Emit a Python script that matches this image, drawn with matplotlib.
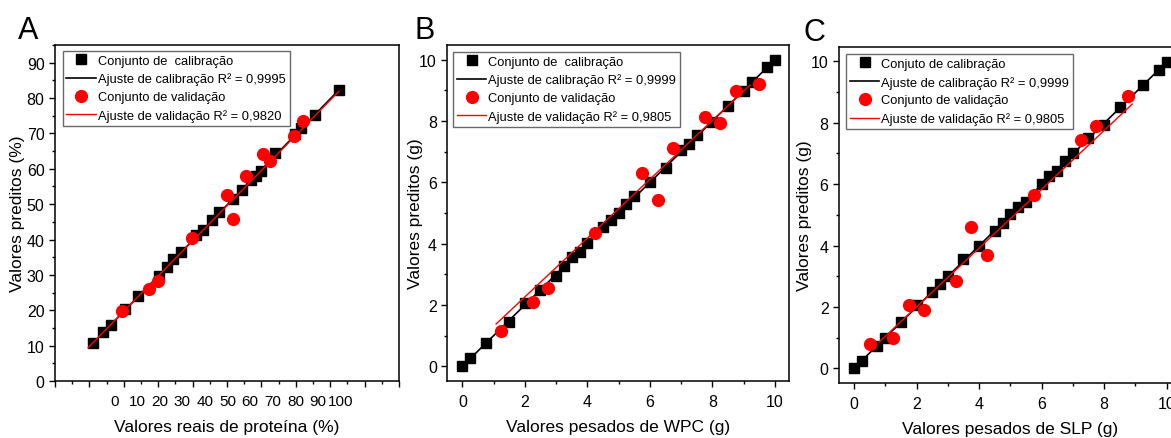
import numpy as np
import matplotlib
matplotlib.use("Agg")
import matplotlib.pyplot as plt
from matplotlib.ticker import MultipleLocator

plt.rcParams['font.family'] = ['Liberation Sans', 'DejaVu Sans']

# ---- panel A: protein (%) ----
cal_A_x = [11.1, 14.0, 16.3, 20.4, 24.0, 30.3, 32.5, 34.2, 36.6, 41.0, 43.1, 45.7,
           47.6, 51.7, 54.4, 57.0, 58.5, 60.0, 63.8, 69.7, 71.6, 75.5, 82.5]
cal_A_y = [10.8, 13.9, 15.9, 20.4, 24.0, 29.7, 32.2, 34.4, 36.5, 41.2, 42.8, 45.5,
           47.7, 51.5, 54.1, 56.7, 58.1, 59.3, 64.5, 69.7, 71.6, 75.1, 82.3]
val_A_x = [19.6, 27.4, 29.8, 39.8, 50.0, 51.7, 55.6, 60.4, 62.6, 69.4, 72.1]
val_A_y = [19.8, 25.9, 28.2, 40.3, 52.7, 45.7, 58.1, 64.3, 62.1, 69.2, 73.4]
fitcal_A = ([11.1, 82.5], [10.8, 82.3])
fitval_A = ([9.6, 82.5], [9.4, 81.9])
# x tick labels of panel A sit squeezed, not under their ticks
xlab_A = ['0', '10', '20', '30', '40', '50', '60', '70', '80', '90', '100']
xlab_A_pos = [17.2, 23.8, 30.4, 37.0, 43.6, 50.1, 56.7, 63.3, 69.9, 76.5, 83.0]

# ---- panel B: WPC (g) ----
cal_B_x = [0, 0.25, 0.75, 1.5, 2, 2.5, 3, 3.25, 3.5, 3.75, 4, 4.5, 4.75, 5, 5.25,
           5.5, 6, 6.5, 7, 7.25, 7.5, 8, 8.5, 9, 9.25, 9.75, 10]
cal_B_y = [0.02, 0.26, 0.76, 1.46, 2.05, 2.48, 2.95, 3.26, 3.55, 3.72, 4.01, 4.53,
           4.78, 5.0, 5.29, 5.54, 6.0, 6.47, 7.04, 7.26, 7.55, 7.98, 8.5, 8.99,
           9.26, 9.77, 10.0]
val_B_x = [1.25, 2.25, 2.75, 4.25, 5.75, 6.25, 6.75, 7.75, 8.25, 8.75, 9.5]
val_B_y = [1.14, 2.11, 2.55, 4.34, 6.30, 5.42, 7.12, 8.12, 7.92, 8.97, 9.21]
fitcal_B = ([0, 10], [0, 10])
fitval_B = ([1.08, 9.2], [1.38, 9.17])

# ---- panel C: SLP (g) ----
cal_C_x = [0, 0.25, 0.75, 1, 1.5, 2, 2.5, 2.75, 3, 3.5, 4, 4.5, 4.75, 5, 5.25,
           5.5, 6, 6.25, 6.5, 6.75, 7, 7.5, 8, 8.5, 9.25, 9.75, 10]
cal_C_y = [0, 0.24, 0.73, 1.0, 1.51, 2.05, 2.47, 2.74, 3.01, 3.55, 3.99, 4.46,
           4.73, 5.02, 5.26, 5.43, 6.0, 6.27, 6.43, 6.74, 7.03, 7.52, 7.92, 8.53,
           9.24, 9.73, 9.97]
val_C_x = [0.5, 1.25, 1.75, 2.25, 3.25, 3.75, 4.25, 5.75, 7.25, 7.75, 8.75]
val_C_y = [0.78, 0.97, 2.07, 1.89, 2.85, 4.59, 3.68, 5.65, 7.45, 7.9, 8.86]
fitcal_C = ([0, 10], [0, 9.98])
fitval_C = ([0.81, 8.9], [0.86, 8.61])

panels = [
    dict(letter='A', cal=(cal_A_x, cal_A_y), val=(val_A_x, val_A_y),
         fcal=fitcal_A, fval=fitval_A,
         labels=['Conjunto de  calibração', 'Ajuste de calibração R² = 0,9995',
                 'Conjunto de validação', 'Ajuste de validação R² = 0,9820'],
         xlabel='Valores reais de proteína (%)', ylabel='Valores preditos (%)',
         rect=[0.0470, 0.1298, 0.2938, 0.7654], xlim=(0, 100), ylim=(0, 95),
         xmaj=10, xmin=5, ymaj=10, ymin=5, leg=(0.022, 0.983), ylc=-0.087,
         lpos=(-0.108, 1.021)),
    dict(letter='B', cal=(cal_B_x, cal_B_y), val=(val_B_x, val_B_y),
         fcal=fitcal_B, fval=fitval_B,
         labels=['Conjunto de  calibração', 'Ajuste de calibração R² = 0,9999',
                 'Conjunto de validação', 'Ajuste de validação R² = 0,9805'],
         xlabel='Valores pesados de WPC (g)', ylabel='Valores preditos (g)',
         rect=[0.3820, 0.1298, 0.2918, 0.7654], xlim=(-0.48, 10.45), ylim=(-0.48, 10.48),
         xmaj=2, xmin=1, ymaj=2, ymin=1, leg=(0.016, 0.980), ylc=-0.071,
         lpos=(-0.095, 1.021)),
    dict(letter='C', cal=(cal_C_x, cal_C_y), val=(val_C_x, val_C_y),
         fcal=fitcal_C, fval=fitval_C,
         labels=['Conjuto de calibração', 'Ajuste de calibração R² = 0,9999',
                 'Conjunto de validação', 'Ajuste de validação R² = 0,9805'],
         xlabel='Valores pesados de SLP (g)', ylabel='Valores preditos (g)',
         rect=[0.7165, 0.1253, 0.2918, 0.7661], xlim=(-0.48, 10.45), ylim=(-0.48, 10.48),
         xmaj=2, xmin=1, ymaj=2, ymin=1, leg=(0.020, 0.978), ylc=-0.079,
         lpos=(-0.105, 1.021)),
]

fig = plt.figure(figsize=(11.71, 4.39), dpi=100)

for p in panels:
    ax = fig.add_axes(p['rect'])
    ax.plot(*p['cal'], 's', color='black', ms=7, label=p['labels'][0], zorder=3)
    ax.plot(*p['fcal'], '-', color='black', lw=1.2, label=p['labels'][1], zorder=3)
    ax.plot(*p['val'], 'o', color='#ff0000', ms=8.5, mec='#ff0000', label=p['labels'][2], zorder=4)
    ax.plot(*p['fval'], '-', color='#ff0000', lw=1.0, label=p['labels'][3], zorder=4)

    ax.set_xlim(*p['xlim'])
    ax.set_ylim(*p['ylim'])
    ax.xaxis.set_major_locator(MultipleLocator(p['xmaj']))
    ax.xaxis.set_minor_locator(MultipleLocator(p['xmin']))
    ax.yaxis.set_major_locator(MultipleLocator(p['ymaj']))
    ax.yaxis.set_minor_locator(MultipleLocator(p['ymin']))
    ax.tick_params(which='major', length=4.5, width=1.0, labelsize=11.5, pad=5)
    ax.tick_params(which='minor', length=2.5, width=1.0)
    ax.tick_params(axis='y', which='major', pad=3)
    for s in ax.spines.values():
        s.set_linewidth(1.1)

    ax.set_xlabel(p['xlabel'], fontsize=12.5)
    ax.set_ylabel(p['ylabel'], fontsize=12.5)
    ax.xaxis.set_label_coords(0.5, -0.113)
    ax.yaxis.set_label_coords(p['ylc'], 0.5)

    leg = ax.legend(loc='upper left', bbox_to_anchor=p['leg'], borderaxespad=0,
                    fontsize=9.3, frameon=True, fancybox=False, borderpad=0.3,
                    handlelength=2.3, handletextpad=0.15, labelspacing=0.45,
                    numpoints=1)
    leg.get_frame().set_edgecolor('#444444')
    leg.get_frame().set_linewidth(1.0)

    ax.text(p['lpos'][0], p['lpos'][1], p['letter'], transform=ax.transAxes,
            fontsize=22, ha='left', va='baseline')

    if p['letter'] == 'A':
        ax.set_xticklabels([])
        for lab, xp in zip(xlab_A, xlab_A_pos):
            ax.annotate(lab, xy=(xp, 0), xycoords=('data', 'axes fraction'),
                        xytext=(0, -9.5), textcoords='offset points',
                        ha='center', va='top', fontsize=11)

fig.savefig('out.png', dpi=100)
